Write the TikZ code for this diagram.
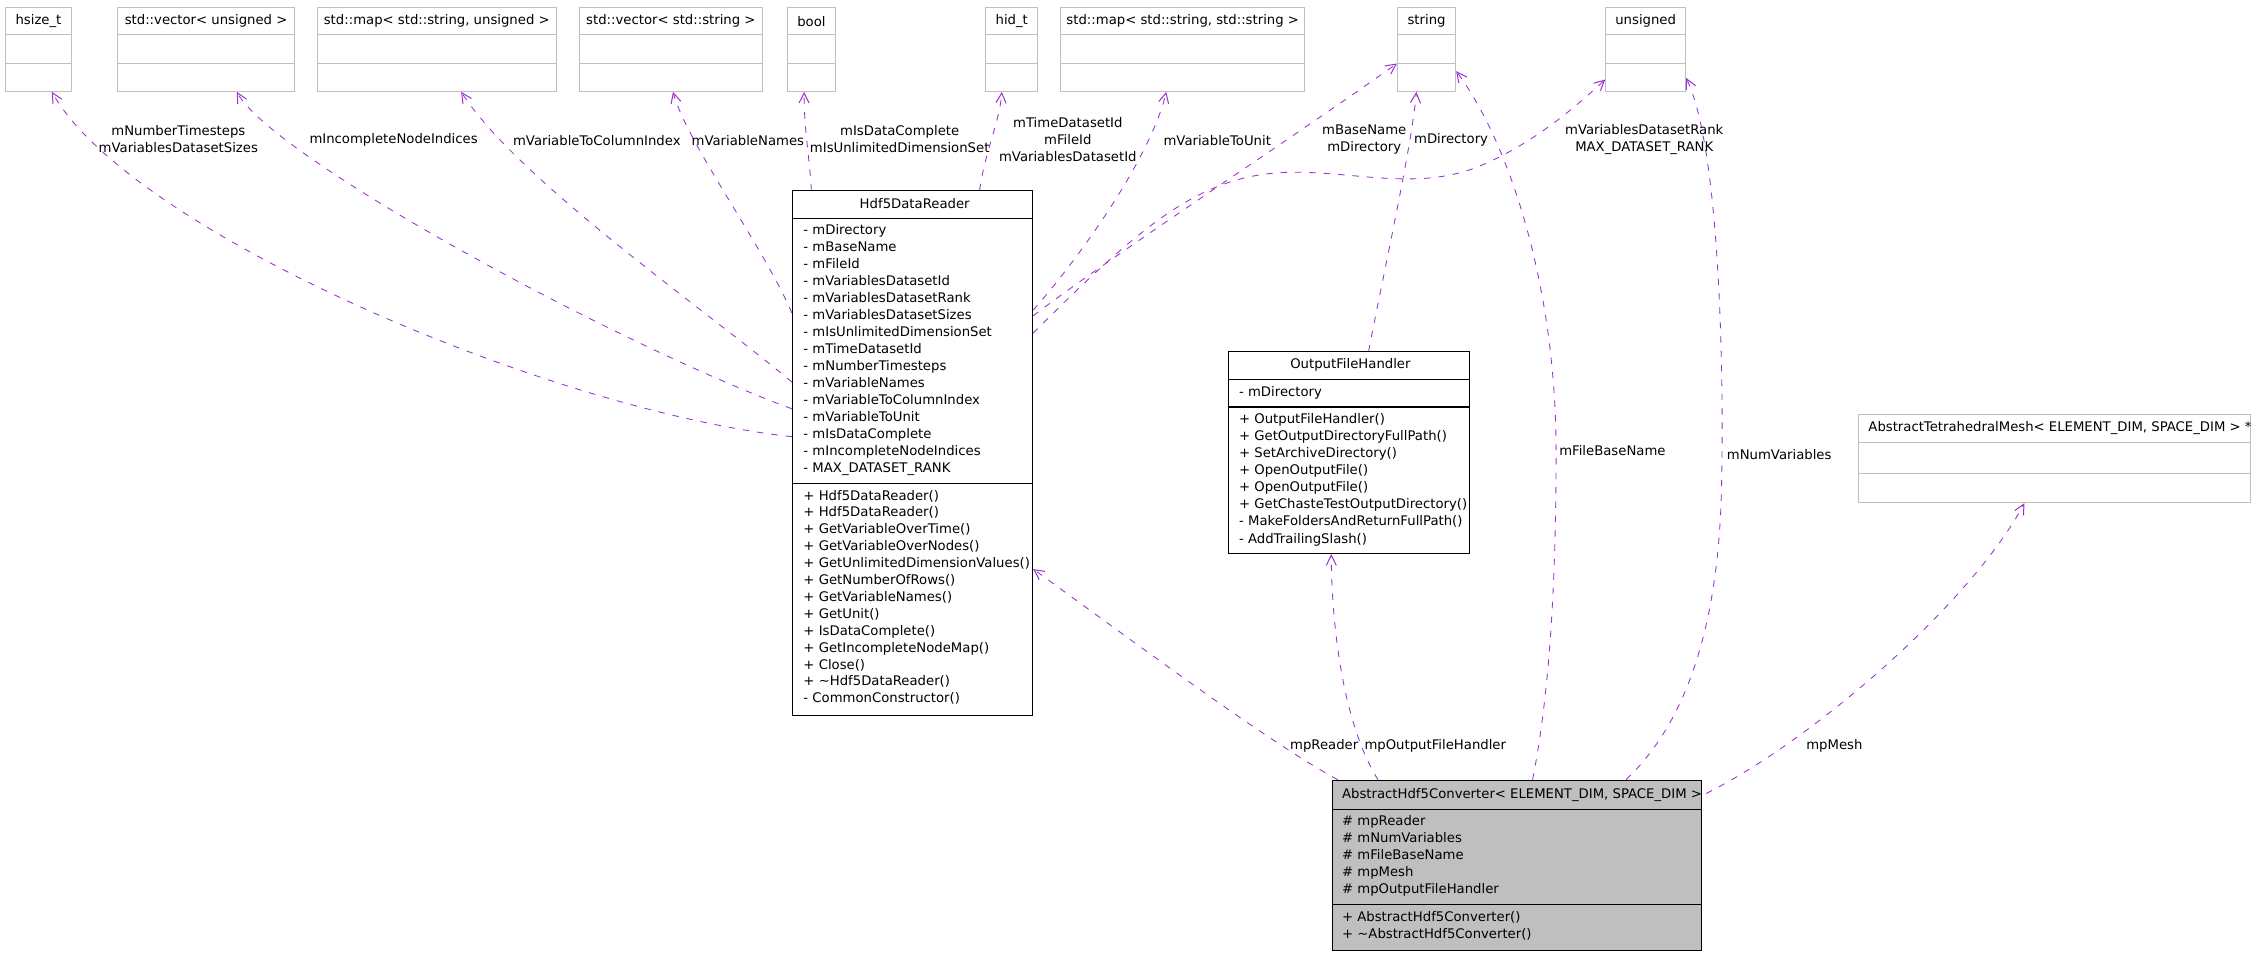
\documentclass[tikz,border=0pt]{standalone}
\usepackage{fontspec}
\setmainfont{DejaVu Sans}
\usetikzlibrary{arrows.meta,calc,fit}
\definecolor{edgec}{RGB}{154,50,205}
\definecolor{boxgray}{RGB}{191,191,191}
\newcommand{\typebox}[4]{%
  \node[gbox, fit={(#2,5.1) (#3,63.5)}] (#1) {};
  \draw[boxgray, line width=0.7pt] (#2,24.3) -- (#3,24.3) (#2,44) -- (#3,44);
  \node[txt] (#1-t) at ({(#2+#3)/2},14.7) {#4};
}
\begin{document}
\begin{tikzpicture}[x=1pt,y=-1pt,
  txt/.style={font=\fontsize{9.2}{11.8}\selectfont, inner sep=0pt, align=center},
  gbox/.style={draw=boxgray, line width=0.7pt, inner sep=0pt},
  bbox/.style={draw=black, line width=0.7pt, inner sep=0pt},
  sepl/.style={draw=black, line width=0.7pt},
  usage/.style={draw=edgec, line width=0.6pt, dash pattern=on 4.5pt off 5.5pt,
    -{Straight Barb[length=7pt,width=7pt,line width=0.7pt]}}
]
\useasboundingbox (0,0) rectangle (1568,664);

% ---- type boxes (top row)
\typebox{hsize}{3.5}{50}{hsize\_t}
\typebox{vecu}{81.6}{205}{std::vector< unsigned >}
\typebox{mapsu}{220.7}{386.7}{std::map< std::string, unsigned >}
\typebox{vecs}{403}{530}{std::vector< std::string >}
\typebox{bool}{547.8}{580.7}{bool}
\typebox{hid}{685.4}{721.6}{hid\_t}
\typebox{mapss}{737.6}{907.2}{std::map< std::string, std::string >}
\typebox{str}{971.7}{1012.2}{string}
\typebox{uns}{1116.6}{1172}{unsigned}

% ---- Hdf5DataReader
\node[bbox, fit={(551,132.6) (718,497.7)}] (h5) {};
\draw[sepl] (551,151.6) -- (718,151.6) (551,336) -- (718,336);
\node[txt] (h5-t) at (636,141.8) {Hdf5DataReader};
\foreach \s [count=\i from 0] in {- mDirectory, - mBaseName, - mFileId,
  - mVariablesDatasetId, - mVariablesDatasetRank, - mVariablesDatasetSizes,
  - mIsUnlimitedDimensionSet, - mTimeDatasetId, - mNumberTimesteps,
  - mVariableNames, - mVariableToColumnIndex, - mVariableToUnit,
  - mIsDataComplete, - mIncompleteNodeIndices, - MAX\_DATASET\_RANK}
  \node[txt, anchor=mid west] (h5a\i) at (558.5,{160.4+11.83*\i}) {\s};
\foreach \s [count=\i from 0] in {+ Hdf5DataReader(), + Hdf5DataReader(),
  + GetVariableOverTime(), + GetVariableOverNodes(),
  + GetUnlimitedDimensionValues(), + GetNumberOfRows(), + GetVariableNames(),
  + GetUnit(), + IsDataComplete(), + GetIncompleteNodeMap(), + Close(),
  + \textasciitilde Hdf5DataReader(), - CommonConstructor()}
  \node[txt, anchor=mid west] (h5m\i) at (558.5,{345+11.75*\i}) {\s};

% ---- OutputFileHandler
\node[bbox, fit={(854.5,244.6) (1022,385)}] (ofh) {};
\draw[sepl] (854.5,263.6) -- (1022,263.6) (854.5,283) -- (1022,283);
\node[txt] (ofh-t) at (939,253.5) {OutputFileHandler};
\node[txt, anchor=mid west] (ofha0) at (861.4,273.2) {- mDirectory};
\foreach \s [count=\i from 0] in {+ OutputFileHandler(),
  + GetOutputDirectoryFullPath(), + SetArchiveDirectory(), + OpenOutputFile(),
  + OpenOutputFile(), + GetChasteTestOutputDirectory(),
  - MakeFoldersAndReturnFullPath(), - AddTrailingSlash()}
  \node[txt, anchor=mid west] (ofhm\i) at (861.4,{291.6+11.9*\i}) {\s};

% ---- AbstractHdf5Converter
\node[bbox, fill=boxgray, fit={(926.5,542.5) (1183,661)}] (conv) {};
\draw[sepl] (926.5,563) -- (1183,563) (926.5,629) -- (1183,629);
\node[txt, anchor=mid west] (conv-t) at (933,552.5) {AbstractHdf5Converter< ELEMENT\_DIM, SPACE\_DIM >};
\foreach \s [count=\i from 0] in {\# mpReader, \# mNumVariables,
  \# mFileBaseName, \# mpMesh, \# mpOutputFileHandler}
  \node[txt, anchor=mid west] (conva\i) at (933,{571+11.8*\i}) {\s};
\node[txt, anchor=mid west] (convm0) at (933,638) {+ AbstractHdf5Converter()};
\node[txt, anchor=mid west] (convm1) at (933,649.6) {+ \textasciitilde AbstractHdf5Converter()};

% ---- AbstractTetrahedralMesh
\node[gbox, fit={(1292,288) (1565,349.5)}] (mesh) {};
\draw[boxgray, line width=0.7pt] (1292,308) -- (1565,308) (1292,329) -- (1565,329);
\node[txt, anchor=mid west] (mesh-t) at (1299,297.5) {AbstractTetrahedralMesh< ELEMENT\_DIM, SPACE\_DIM > *};

% ---- connectors
\draw[usage] ($(h5.north west)+(0,171.4)$) .. controls (380,285) and (90,160) .. ($(hsize.south west)+(32.9,0)$);
\draw[usage] ($(h5.north west)+(0,152)$) .. controls (430,240) and (190,110) .. ($(vecu.south west)+(83.4,0)$);
\draw[usage] ($(h5.north west)+(0,133.4)$) .. controls (490,215) and (360,125) .. ($(mapsu.south west)+(100.3,0)$);
\draw[usage] ($(h5.north west)+(0,85.4)$) .. controls (530,170) and (478,100) .. ($(vecs.south west)+(65.3,0)$);
\draw[usage] ($(h5.north west)+(13.5,0)$) .. controls (563,110) and (559,90) .. ($(bool.south west)+(11.7,0)$);
\draw[usage] ($(h5.north west)+(130.5,0)$) .. controls (685,105) and (695,85) .. ($(hid.south west)+(11.6,0)$);
\draw[usage] ($(h5.north east)+(0,83.4)$) .. controls (750,180) and (800,110) .. ($(mapss.south west)+(73.7,0)$);
\draw[usage] ($(h5.north east)+(0,87.4)$) .. controls (770,180) and (900,95) .. ($(str.north west)+(0,39.4)$);
\draw[usage] ($(h5.north east)+(0,99.4)$) .. controls (800,150) and (840,118) .. (906,119.8)
  .. controls (950,121) and (990,132) .. (1030,115)
  .. controls (1070,98) and (1100,70) .. ($(uns.north west)+(0,50.5)$);
\draw[usage] ($(ofh.north west)+(97.5,0)$) .. controls (962,190) and (982,100) .. ($(str.south west)+(13.5,0)$);
\draw[usage] ($(conv.north west)+(139.5,0)$) .. controls (1078,480) and (1082,400) .. (1082,314)
  .. controls (1082,200) and (1050,100) .. ($(str.north east)+(0,44.7)$);
\draw[usage] ($(conv.north west)+(204.5,0)$) .. controls (1175,500) and (1195,430) .. (1197,340)
  .. controls (1199,250) and (1195,100) .. ($(uns.north east)+(0,49.4)$);
\draw[usage] ($(conv.north west)+(4,0)$) .. controls (880,515) and (780,440) .. ($(h5.north east)+(0,263.4)$);
\draw[usage] ($(conv.north west)+(32,0)$) .. controls (935,505) and (926,440) .. ($(ofh.south west)+(71.5,0)$);
\draw[usage] ($(conv.north east)+(3,9.6)$) .. controls (1260,515) and (1370,420) .. ($(mesh.south west)+(116,0)$);

% ---- connector labels
\node[txt] (l1) at (124,96.8) {mNumberTimesteps\\mVariablesDatasetSizes};
\node[txt] (l2) at (273.7,97.4) {mIncompleteNodeIndices};
\node[txt] (l3) at (415,97.4) {mVariableToColumnIndex};
\node[txt] (l4) at (520,97.4) {mVariableNames};
\node[txt] (l5) at (625.6,96.8) {mIsDataComplete\\mIsUnlimitedDimensionSet};
\node[txt] (l6) at (742.5,97.2) {mTimeDatasetId\\mFileId\\mVariablesDatasetId};
\node[txt] (l7) at (846.4,97.4) {mVariableToUnit};
\node[txt] (l8) at (948.6,96.8) {mBaseName\\mDirectory};
\node[txt] (l9) at (1009,97.4) {mDirectory};
\node[txt] (l10) at (1143.3,96.8) {mVariablesDatasetRank\\MAX\_DATASET\_RANK};
\node[txt, anchor=mid west] (l11) at (1084,314) {mFileBaseName};
\node[txt, anchor=mid west] (l12) at (1200.6,317) {mNumVariables};
\node[txt] (l13) at (920.8,518.5) {mpReader};
\node[txt] (l14) at (998,518.5) {mpOutputFileHandler};
\node[txt] (l15) at (1275.5,518.6) {mpMesh};
\end{tikzpicture}
\end{document}
